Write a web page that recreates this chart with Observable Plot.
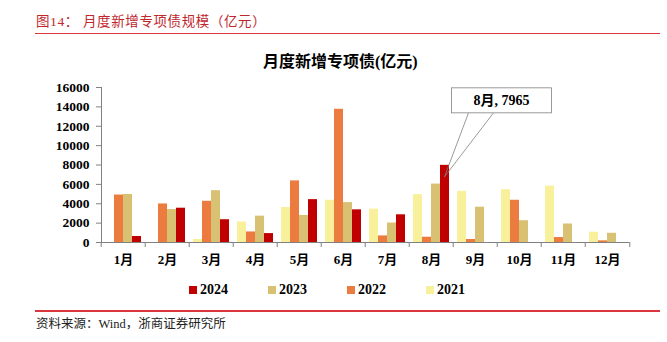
<!DOCTYPE html>
<html><head><meta charset="utf-8">
<script src="https://cdn.jsdelivr.net/npm/d3@7"></script>
<script src="https://cdn.jsdelivr.net/npm/@observablehq/plot@0.6"></script>
<style>
body{margin:0;background:#fff}
#wrap{position:relative;width:667px;height:342px;overflow:hidden;font-family:'Liberation Serif','Noto Sans CJK SC',serif;color:#000}
.abs{position:absolute;white-space:nowrap}
.hdr{color:#C0272D;font-size:13.5px;line-height:16px;top:14px;letter-spacing:0.6px}
.rule{left:35px;width:625px;height:1.5px;background:#D9363E}
#legend{left:189px;top:282px;display:flex;font-size:14px;font-weight:bold;line-height:16px}
#legend .item{width:79px;display:flex;align-items:center}
#legend .sw{width:8px;height:8px;margin-right:3px}
</style></head><body><div id="wrap">
<div class="abs hdr" style="left:36px">图14：</div>
<div class="abs hdr" style="left:83px">月度新增专项债规模（亿元）</div>
<div class="abs rule" style="top:32.5px"></div>
<div class="abs" style="left:263px;top:53px;font-size:16px;line-height:18px;font-weight:bold">月度新增专项债(亿元)</div>
<div id="chart" class="abs" style="left:0;top:70px"></div>
<div id="legend" class="abs"></div>
<div class="abs rule" style="top:310px"></div>
<div class="abs" style="left:36px;top:317px;font-size:12.5px;line-height:14px;color:#222">资料来源：Wind，浙商证券研究所</div>
</div>
<script>
const months = ["1月","2月","3月","4月","5月","6月","7月","8月","9月","10月","11月","12月"];
const years = ["2021","2022","2023","2024"];
const v2021 = [null, null, 310, 2110, 3610, 4360, 3440, 4940, 5280, 5450, 5820, 1060];
const v2022 = [4900, 3980, 4255, 1090, 6360, 13750, 680, 545, 310, 4360, 510, 170];
const v2023 = [4960, 3400, 5350, 2720, 2790, 4120, 2010, 6030, 3645, 2250, 1910, 950];
const v2024 = [620, 3540, 2350, 920, 4425, 3370, 2860, 7965, null, null, null, null];
const colors = ["#F9F09B", "#EB7B3E", "#D9C173", "#C00000"];
const yTicks = [0, 2000, 4000, 6000, 8000, 10000, 12000, 14000, 16000];
const annMonth = "8月", annYear = "2024", annValue = v2024[7];

const series = [v2021, v2022, v2023, v2024];
const data = [];
months.forEach((m, i) => series.forEach((s, j) => {
  if (s[i] != null) data.push({month: m, year: years[j], value: s[i]});
}));

const W = 667, ml = 97, mr = 35;
const half = (W - ml - mr) / months.length / 2;
const gray = "#808080";

const chart = Plot.plot({
  width: W, height: 210, marginTop: 17, marginBottom: 38, marginLeft: ml, marginRight: mr,
  style: {fontFamily: "'Liberation Serif','Noto Sans CJK SC',serif", fontSize: "13px", fontWeight: "bold", color: "#000", background: "transparent"},
  fx: {domain: months, padding: 0, label: null},
  x: {domain: years, paddingInner: 0, paddingOuter: 0.4, axis: null},
  y: {domain: [0, 16000], label: null},
  color: {domain: years, range: colors},
  marks: [
    Plot.barY(data, {fx: "month", x: "year", y: "value", fill: "year"}),
    Plot.ruleY([0], {stroke: gray}),
    Plot.frame({anchor: "left", facetAnchor: "left", stroke: gray}),
    Plot.axisY({ticks: yTicks, tickSize: 5, tickPadding: 7, stroke: gray, fontSize: 13.5, label: null, tickFormat: d => String(d)}),
    Plot.axisFx({anchor: "bottom", tickSize: 0, tickPadding: 12, label: null, fontSize: 13}),
    Plot.axisFx({anchor: "bottom", tickSize: 5, tickFormat: () => "", dx: -half, label: null, stroke: gray}),
    Plot.axisFx({anchor: "bottom", ticks: [months[months.length - 1]], tickSize: 5, tickFormat: () => "", dx: half, label: null, stroke: gray})
  ]
});
document.getElementById("chart").appendChild(chart);

// annotation callout, positioned through the plot's scales
const fx = chart.scale("fx"), xs = chart.scale("x"), ys = chart.scale("y");
const cx = fx.apply(annMonth) + xs.apply(annYear) - xs.range[0] + xs.bandwidth / 2;
const y0 = ys.apply(annValue);
const g = d3.select(chart).append("g");
g.append("path")
  .attr("d", `M${cx + 24},${y0 - 52}L${cx},${y0 + 12}L${cx + 49},${y0 - 52}`)
  .attr("fill", "none").attr("stroke", gray).attr("stroke-width", 0.8);
g.append("rect").attr("x", cx + 7).attr("y", y0 - 77).attr("width", 100).attr("height", 25)
  .attr("fill", "white").attr("stroke", gray).attr("stroke-width", 0.8);
g.append("text").attr("x", cx + 57).attr("y", y0 - 64.5)
  .attr("text-anchor", "middle").attr("dominant-baseline", "central")
  .attr("font-size", 14).attr("font-weight", "bold")
  .text(`${annMonth}, ${annValue}`);

// legend
const leg = d3.select("#legend");
[...years].reverse().forEach(y => {
  const it = leg.append("div").attr("class", "item");
  it.append("div").attr("class", "sw").style("background", colors[years.indexOf(y)]);
  it.append("span").text(y);
});
</script>
</body></html>
